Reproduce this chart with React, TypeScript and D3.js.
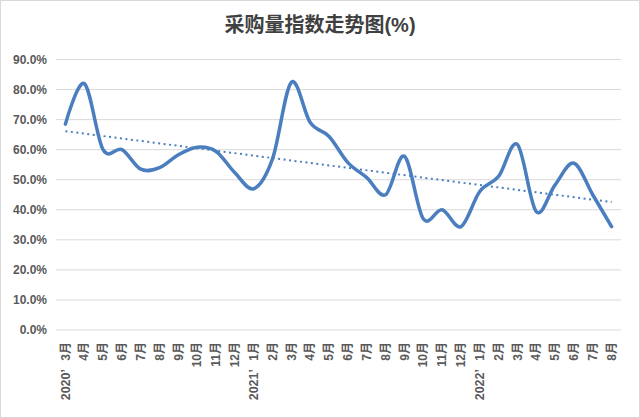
import React from "react";
import * as d3 from "d3";

const months = [
  "3月", "4月", "5月", "6月", "7月", "8月", "9月", "10月", "11月", "12月",
  "1月", "2月", "3月", "4月", "5月", "6月", "7月", "8月", "9月", "10月", "11月", "12月",
  "1月", "2月", "3月", "4月", "5月", "6月", "7月", "8月",
];
const yearLabels = [
  { index: 0, label: "2020’" },
  { index: 10, label: "2021’" },
  { index: 22, label: "2022’" },
];
const values = [
  68.5, 82, 60, 60, 53.5, 54, 58.3, 60.8, 59.4, 52.3,
  47, 57, 82.4, 69, 64.4, 55.7, 50.7, 45, 57.8, 37, 40, 34.4,
  46.1, 51.1, 61.7, 39.4, 48.3, 55.5, 45, 34.4,
];
const yTicks = [0, 10, 20, 30, 40, 50, 60, 70, 80, 90];
const title = "采购量指数走势图(%)";

const W = 640;
const H = 418;
const LINE = "#4a7ebf";
const FONT = "'Liberation Sans', 'Noto Sans CJK SC', sans-serif";

export default function App() {
  const idx = months.map((_, i) => i);
  const x = d3.scaleBand<number>().domain(idx).range([56, 621]);
  const cx = (i: number) => (x(i) as number) + x.bandwidth() / 2;
  const y = d3.scaleLinear().domain([0, 90]).range([330, 59.5]);

  const line = d3
    .line<number>()
    .x((_, i) => cx(i))
    .y((d) => y(d))
    .curve(d3.curveCardinal.tension(0));

  // linear trend (least squares)
  const n = values.length;
  const mx = d3.mean(idx) as number;
  const my = d3.mean(values) as number;
  let sxy = 0;
  let sxx = 0;
  idx.forEach((i) => {
    sxy += (i - mx) * (values[i] - my);
    sxx += (i - mx) * (i - mx);
  });
  const slope = sxy / sxx;
  const icpt = my - slope * mx;
  const t0 = icpt;
  const t1 = icpt + slope * (n - 1);

  return (
    <svg
      width={W}
      height={H}
      style={{ position: "fixed", left: 0, top: 0, background: "#fff" }}
    >
      <rect x={0.5} y={0.5} width={W - 1} height={H - 1} fill="#fff" stroke="#d9d9d9" />
      <text
        x={320}
        y={32}
        textAnchor="middle"
        fontFamily={FONT}
        fontSize={20}
        fontWeight="bold"
        fill="#404040"
      >
        {title}
      </text>
      {yTicks.map((t) => (
        <g key={t}>
          <line x1={56} x2={621} y1={y(t)} y2={y(t)} stroke="#d9d9d9" strokeWidth={1} />
          <text
            x={47}
            y={y(t)}
            dy="0.35em"
            textAnchor="end"
            fontFamily={FONT}
            fontSize={12}
            fontWeight="bold"
            fill="#595959"
          >
            {t.toFixed(1) + "%"}
          </text>
        </g>
      ))}
      {months.map((m, i) => (
        <text
          key={i}
          transform={`translate(${cx(i)},342) rotate(-90)`}
          dy="0.35em"
          textAnchor="end"
          fontFamily={FONT}
          fontSize={12}
          fontWeight="bold"
          fill="#595959"
        >
          {m}
        </text>
      ))}
      {yearLabels.map((yl) => (
        <text
          key={yl.index}
          transform={`translate(${cx(yl.index)},369) rotate(-90)`}
          dy="0.35em"
          textAnchor="end"
          fontFamily={FONT}
          fontSize={12.5}
          fontWeight="bold"
          fill="#595959"
        >
          {yl.label}
        </text>
      ))}
      <path
        d={line(values) || ""}
        fill="none"
        stroke={LINE}
        strokeWidth={3.5}
        strokeLinejoin="round"
        strokeLinecap="round"
      />
      <line
        x1={cx(0)}
        x2={cx(n - 1)}
        y1={y(t0)}
        y2={y(t1)}
        stroke={LINE}
        strokeWidth={2}
        strokeDasharray="2 3.5"
      />
    </svg>
  );
}
